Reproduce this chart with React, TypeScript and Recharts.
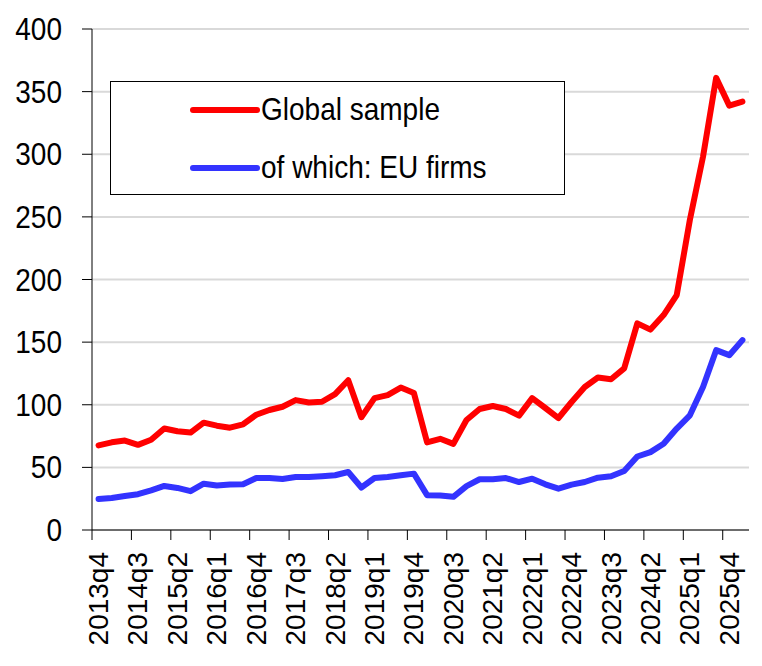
import { LineChart, Line, XAxis, YAxis, CartesianGrid, Legend } from 'recharts';

const quarters = [
  '2013q4',
  '2014q1', '2014q2', '2014q3', '2014q4',
  '2015q1', '2015q2', '2015q3', '2015q4',
  '2016q1', '2016q2', '2016q3', '2016q4',
  '2017q1', '2017q2', '2017q3', '2017q4',
  '2018q1', '2018q2', '2018q3', '2018q4',
  '2019q1', '2019q2', '2019q3', '2019q4',
  '2020q1', '2020q2', '2020q3', '2020q4',
  '2021q1', '2021q2', '2021q3', '2021q4',
  '2022q1', '2022q2', '2022q3', '2022q4',
  '2023q1', '2023q2', '2023q3', '2023q4',
  '2024q1', '2024q2', '2024q3', '2024q4',
  '2025q1', '2025q2', '2025q3', '2025q4',
  '2026q1',
];

const globalSample = [
  67.6, 70, 71.4, 68, 72, 81, 78.8, 77.8, 85.7, 83.3, 81.7, 84.4, 92, 95.8, 98.4, 103.7, 101.8,
  102.4, 108.5, 119.6, 90, 105.3, 107.7, 113.7, 109.3, 70, 72.8, 68.8, 87.8, 96.6, 99, 96.6, 91.3,
  105.3, 97.4, 89.4, 102.2, 114.2, 121.8, 120.4, 129, 165, 160, 171.6, 187.6, 247.6, 298, 361, 338.8, 342,
];

const euFirms = [
  24.8, 25.6, 27.2, 28.6, 31.7, 35.2, 33.6, 31, 37, 35.5, 36.3, 36.5, 41.5, 41.5, 40.7, 42.3, 42.3,
  42.9, 43.7, 46.3, 33.9, 41.5, 42.3, 43.7, 45, 27.8, 27.5, 26.5, 35, 40.5, 40.5, 41.5, 38.3,
  41, 36.5, 33, 36.2, 38.3, 41.8, 42.9, 47.1, 58.7, 62.2, 68.8, 81, 91.6, 114.2, 143.6, 139.6, 151.6,
];

const yTicks = [0, 50, 100, 150, 200, 250, 300, 350, 400];

const data = quarters.map((q, i) => ({ q, global: globalSample[i], eu: euFirms[i] }));

const FONT = '"Liberation Sans", Arial, sans-serif';
const STRETCH = 1.12; // reference glyphs are a bit taller than Liberation Sans
const W = 762;
const H = 666;
const Y_AXIS_W = 92;
const RIGHT = 13;
const BAND = (W - Y_AXIS_W - RIGHT) / quarters.length;

// excel style: tick marks sit between categories, label in the middle
const QuarterTick = (props: any) => {
  const { x, y, payload } = props;
  const bx = x - BAND / 2;
  const ty = y + 22;
  return (
    <g>
      <line x1={bx} y1={y} x2={bx} y2={y + 10} stroke="#000" strokeWidth={1} />
      <text
        x={x}
        y={ty}
        transform={`rotate(-90 ${x} ${ty})`}
        textAnchor="end"
        dominantBaseline="central"
        fontSize={28}
        fontFamily={FONT}
        fill="#000"
      >
        {payload.value}
      </text>
    </g>
  );
};

const ValueTick = (props: any) => {
  const { x, y, payload } = props;
  return (
    <text
      x={x}
      y={y}
      dy="0.355em"
      textAnchor="end"
      transform={`translate(0 ${y}) scale(1 ${STRETCH}) translate(0 ${-y})`}
      fontSize={28}
      fontFamily={FONT}
      fill="#000"
    >
      {payload.value}
    </text>
  );
};

const LegendBox = () => (
  <div
    style={{
      position: 'relative',
      width: 455,
      height: 114,
      boxSizing: 'border-box',
      border: '1px solid #000',
      background: '#fff',
      fontFamily: FONT,
      fontSize: 28,
      color: '#000',
    }}
  >
    {[
      { name: 'Global sample', color: '#ff0000', top: 28 },
      { name: 'of which: EU firms', color: '#3333ff', top: 86 },
    ].map((it) => (
      <div key={it.name} style={{ position: 'absolute', left: 78, top: it.top - 20, height: 40, display: 'flex', alignItems: 'center' }}>
        <svg width={72} height={40} style={{ display: 'block' }}>
          <line x1={4} y1={20} x2={68} y2={20} stroke={it.color} strokeWidth={6} strokeLinecap="round" />
        </svg>
        <span style={{ whiteSpace: 'nowrap', display: 'inline-block', transform: `scaleY(${STRETCH})` }}>{it.name}</span>
      </div>
    ))}
  </div>
);

export default function App() {
  return (
    <div style={{ position: 'absolute', left: 0, top: 0, background: '#fff' }}>
      <LineChart width={W} height={H} data={data} margin={{ top: 29, right: RIGHT, bottom: 0, left: 0 }}>
        <CartesianGrid horizontal vertical={false} stroke="#d9d9d9" strokeWidth={2} />
        <XAxis
          dataKey="q"
          scale="band"
          interval={2}
          height={136}
          tickLine={false}
          tickSize={0}
          tickMargin={0}
          axisLine={{ stroke: '#000', strokeWidth: 1 }}
          tick={<QuarterTick />}
        />
        <YAxis
          width={Y_AXIS_W}
          domain={[0, 400]}
          ticks={yTicks}
          interval={0}
          tickSize={10}
          tickMargin={20}
          axisLine={{ stroke: '#000', strokeWidth: 1 }}
          tickLine={{ stroke: '#000', strokeWidth: 1 }}
          tick={<ValueTick />}
        />
        <Legend
          layout="vertical"
          align="center"
          verticalAlign="middle"
          content={() => <LegendBox />}
          wrapperStyle={{ left: 110, top: 81, width: 455, height: 114 }}
        />
        <Line
          dataKey="global"
          name="Global sample"
          stroke="#ff0000"
          strokeWidth={6}
          strokeLinecap="round"
          strokeLinejoin="round"
          dot={false}
          isAnimationActive={false}
        />
        <Line
          dataKey="eu"
          name="of which: EU firms"
          stroke="#3333ff"
          strokeWidth={6}
          strokeLinecap="round"
          strokeLinejoin="round"
          dot={false}
          isAnimationActive={false}
        />
      </LineChart>
    </div>
  );
}
